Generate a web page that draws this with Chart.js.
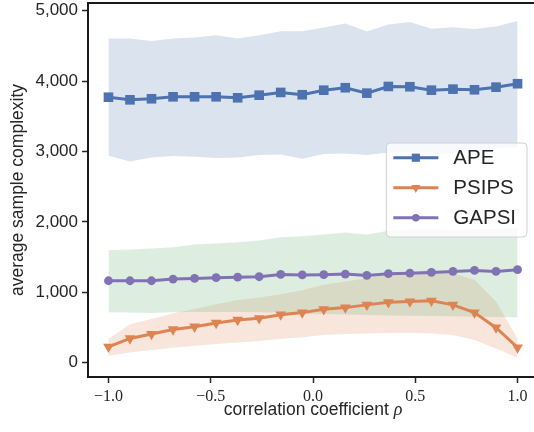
<!DOCTYPE html>
<html>
<head>
<meta charset="utf-8">
<script src="https://cdn.jsdelivr.net/npm/chart.js@4.4.1/dist/chart.umd.min.js"></script>
<style>
  html, body { margin: 0; padding: 0; background: #ffffff; overflow: hidden; }
  canvas { display: block; }
</style>
</head>
<body>
<canvas id="c" width="542" height="432"></canvas>
<script>
// ---- data ----
const rho = [-1.0, -0.8947, -0.7895, -0.6842, -0.5789, -0.4737, -0.3684, -0.2632, -0.1579, -0.0526,
             0.0526, 0.1579, 0.2632, 0.3684, 0.4737, 0.5789, 0.6842, 0.7895, 0.8947, 1.0];

const apeMean = [3771, 3734, 3749, 3777, 3777, 3777, 3763, 3800, 3839, 3806,
                 3871, 3906, 3829, 3924, 3920, 3871, 3886, 3877, 3914, 3963];
const apeHigh = [4606, 4606, 4571, 4606, 4620, 4653, 4606, 4653, 4710, 4710,
                 4763, 4820, 4706, 4806, 4839, 4743, 4767, 4739, 4777, 4853];
const apeLow  = [2939, 2857, 2914, 2934, 2924, 2906, 2914, 2949, 2957, 2896,
                 2963, 2971, 2949, 2985, 2995, 2965, 2980, 2990, 3050, 3060];

const psipsMean = [224, 343, 406, 471, 510, 563, 606, 629, 681, 710,
                   757, 781, 820, 857, 867, 877, 820, 710, 496, 214];
const psipsHigh = [334, 543, 619, 700, 762, 829, 891, 924, 971, 1027,
                   1105, 1153, 1200, 1248, 1286, 1320, 1271, 1177, 867, 343];
const psipsLow  = [96, 143, 177, 210, 239, 263, 286, 306, 334, 360,
                   391, 406, 414, 420, 424, 414, 391, 320, 200, 67];

const gapsiMean = [1163, 1163, 1163, 1186, 1196, 1206, 1214, 1220, 1253, 1246,
                   1249, 1257, 1239, 1263, 1271, 1281, 1296, 1310, 1296, 1320];
const gapsiHigh = [1596, 1606, 1620, 1639, 1677, 1691, 1710, 1734, 1781, 1796,
                   1820, 1850, 1820, 1875, 1890, 1890, 1880, 1900, 1900, 1920];
const gapsiLow  = [714, 710, 706, 714, 720, 720, 720, 714, 710, 695,
                   691, 684, 677, 670, 667, 663, 660, 653, 648, 643];

const seriesNames = ['APE', 'PSIPS', 'GAPSI'];
const xTicks = [-1.0, -0.5, 0.0, 0.5, 1.0];
const yTicks = [0, 1000, 2000, 3000, 4000, 5000];
const xTitle = ['correlation coefficient ', '\u03c1'];
const yTitle = 'average sample complexity';

// ---- styling ----
const BLUE = '#4C72B0', ORANGE = '#DD8452', GREEN = '#55A868', PURPLE = '#8172B3';
const INK = '#262626';
const SANS = '"Liberation Sans", Arial, sans-serif';
const SERIF = '"Liberation Serif", "Times New Roman", serif';

function pts(arr) { return rho.map((x, i) => ({ x: x, y: arr[i] })); }
function rgba(hex, a) {
  const n = parseInt(hex.slice(1), 16);
  return `rgba(${(n >> 16) & 255},${(n >> 8) & 255},${n & 255},${a})`;
}

function band(data, color, fillTarget, order, withFill) {
  return {
    data: pts(data),
    borderWidth: 0,
    borderColor: 'rgba(0,0,0,0)',
    pointRadius: 0,
    pointHoverRadius: 0,
    backgroundColor: rgba(color, 0.2),
    fill: withFill ? fillTarget : false,
    order: order,
    tension: 0
  };
}
function line(label, data, color, style, radius, rotation, order) {
  return {
    label: label,
    legendItem: true,
    data: pts(data),
    borderColor: color,
    backgroundColor: color,
    borderWidth: 3,
    pointStyle: style,
    pointRadius: radius,
    pointRotation: rotation,
    pointBackgroundColor: color,
    pointBorderColor: color,
    pointBorderWidth: 0,
    fill: false,
    order: order,
    tension: 0
  };
}

const datasets = [
  band(apeHigh, BLUE, 1, 30, true),
  band(apeLow, BLUE, false, 30, false),
  band(psipsHigh, ORANGE, 3, 20, true),
  band(psipsLow, ORANGE, false, 20, false),
  band(gapsiHigh, GREEN, 5, 10, true),
  band(gapsiLow, GREEN, false, 10, false),
  line(seriesNames[0], apeMean, BLUE, 'rect', 6.8, 0, 3),
  line(seriesNames[1], psipsMean, ORANGE, 'triangle', 6.2, 180, 2),
  line(seriesNames[2], gapsiMean, PURPLE, 'circle', 4.4, 0, 1)
];

const framePlugin = {
  id: 'frame',
  afterDatasetsDraw(chart) {
    const { ctx, chartArea: a } = chart;
    ctx.save();
    ctx.strokeStyle = '#1a1a1a';
    ctx.lineWidth = 2;
    ctx.beginPath();
    ctx.moveTo(a.left, a.top);
    ctx.lineTo(a.right, a.top);
    ctx.lineTo(a.right, a.bottom);
    ctx.stroke();
    ctx.restore();
  }
};

// x-axis title with an italic rho
const xTitlePlugin = {
  id: 'xTitle',
  afterDraw(chart) {
    const { ctx, chartArea: a } = chart;
    const xs = chart.scales.x;
    ctx.save();
    const f1 = `17.5px ${SANS}`, f2 = `italic 18px ${SERIF}`;
    ctx.font = f1;
    const w1 = ctx.measureText(xTitle[0]).width;
    ctx.font = f2;
    const w2 = ctx.measureText(xTitle[1]).width;
    const mid = (xs.left + xs.right) / 2;
    const start = mid - (w1 + w2) / 2;
    const base = a.bottom + 38.3;
    ctx.fillStyle = INK;
    ctx.textBaseline = 'alphabetic';
    ctx.textAlign = 'left';
    ctx.font = f1;
    ctx.fillText(xTitle[0], start, base);
    ctx.font = f2;
    ctx.fillText(xTitle[1], start + w1, base);
    ctx.restore();
  }
};

const legendPlugin = {
  id: 'boxLegend',
  afterDraw(chart) {
    const { ctx, chartArea: a } = chart;
    const items = chart.data.datasets.filter(d => d.legendItem);
    const fs = 20.5;
    ctx.save();
    ctx.font = `${fs}px ${SANS}`;
    const padL = 7, handle = 45, gap = 15, padR = 11, rowH = 30;
    const textW = Math.max(...items.map(d => ctx.measureText(d.label).width));
    const w = padL + handle + gap + textW + padR;
    const h = 94;
    const right = a.right - 11;
    const left = right - w;
    const top = (a.top + a.bottom) / 2 - h / 2;
    const r = 4;
    ctx.beginPath();
    ctx.moveTo(left + r, top);
    ctx.lineTo(left + w - r, top);
    ctx.quadraticCurveTo(left + w, top, left + w, top + r);
    ctx.lineTo(left + w, top + h - r);
    ctx.quadraticCurveTo(left + w, top + h, left + w - r, top + h);
    ctx.lineTo(left + r, top + h);
    ctx.quadraticCurveTo(left, top + h, left, top + h - r);
    ctx.lineTo(left, top + r);
    ctx.quadraticCurveTo(left, top, left + r, top);
    ctx.closePath();
    ctx.fillStyle = 'rgba(255,255,255,0.8)';
    ctx.fill();
    ctx.strokeStyle = '#d0d0d0';
    ctx.lineWidth = 1;
    ctx.stroke();
    items.forEach((d, i) => {
      const y = top + 14.7 + i * rowH;
      ctx.strokeStyle = d.borderColor;
      ctx.lineWidth = 3;
      ctx.lineCap = 'butt';
      ctx.beginPath();
      ctx.moveTo(left + padL, y);
      ctx.lineTo(left + padL + handle, y);
      ctx.stroke();
      ctx.fillStyle = d.pointBackgroundColor;
      ctx.strokeStyle = d.pointBorderColor;
      Chart.helpers.drawPoint(ctx, {
        pointStyle: d.pointStyle,
        radius: d.pointRadius * 0.85,
        rotation: d.pointRotation,
        borderWidth: 0
      }, left + padL + handle / 2, y);
      ctx.fillStyle = INK;
      ctx.textBaseline = 'middle';
      ctx.textAlign = 'left';
      ctx.fillText(d.label, left + padL + handle + gap, y + 1);
    });
    ctx.restore();
  }
};

new Chart(document.getElementById('c'), {
  type: 'line',
  data: { datasets: datasets },
  plugins: [framePlugin, xTitlePlugin, legendPlugin],
  options: {
    responsive: false,
    devicePixelRatio: 1,
    animation: false,
    events: [],
    layout: { autoPadding: false, padding: { left: 0, right: 4, top: 3, bottom: 0 } },
    plugins: {
      legend: { display: false },
      tooltip: { enabled: false },
      filler: { propagate: false }
    },
    scales: {
      x: {
        type: 'linear',
        min: -1.1,
        max: 1.1,
        afterBuildTicks: s => { s.ticks = xTicks.map(v => ({ value: v })); },
        afterFit: s => { s.height = 55; s.paddingLeft = 0; s.paddingRight = 0; },
        ticks: {
          padding: 4,
          color: INK,
          font: { family: SERIF, size: 16 },
          maxRotation: 0,
          autoSkip: false,
          callback: v => (v < 0 ? '\u2212' : '') + Math.abs(v).toFixed(1)
        },
        grid: { display: true, drawOnChartArea: false, drawTicks: true, tickLength: 6, tickColor: INK, tickWidth: 1.5 },
        border: { display: true, color: '#1a1a1a', width: 2 },
        title: { display: false }
      },
      y: {
        type: 'linear',
        min: -205,
        max: 5110,
        afterBuildTicks: s => { s.ticks = yTicks.map(v => ({ value: v })); },
        afterFit: s => { s.width = 88; s.paddingTop = 0; s.paddingBottom = 0; },
        ticks: {
          padding: 4,
          color: INK,
          font: { family: SANS, size: 17 },
          callback: v => v.toLocaleString('en-US')
        },
        grid: { display: true, drawOnChartArea: false, drawTicks: true, tickLength: 6, tickColor: INK, tickWidth: 1.5 },
        border: { display: true, color: '#1a1a1a', width: 2 },
        title: {
          display: true,
          text: yTitle,
          color: INK,
          font: { family: SANS, size: 17.5 },
          padding: { top: 8, bottom: 0 }
        }
      }
    }
  }
});
</script>
</body>
</html>
